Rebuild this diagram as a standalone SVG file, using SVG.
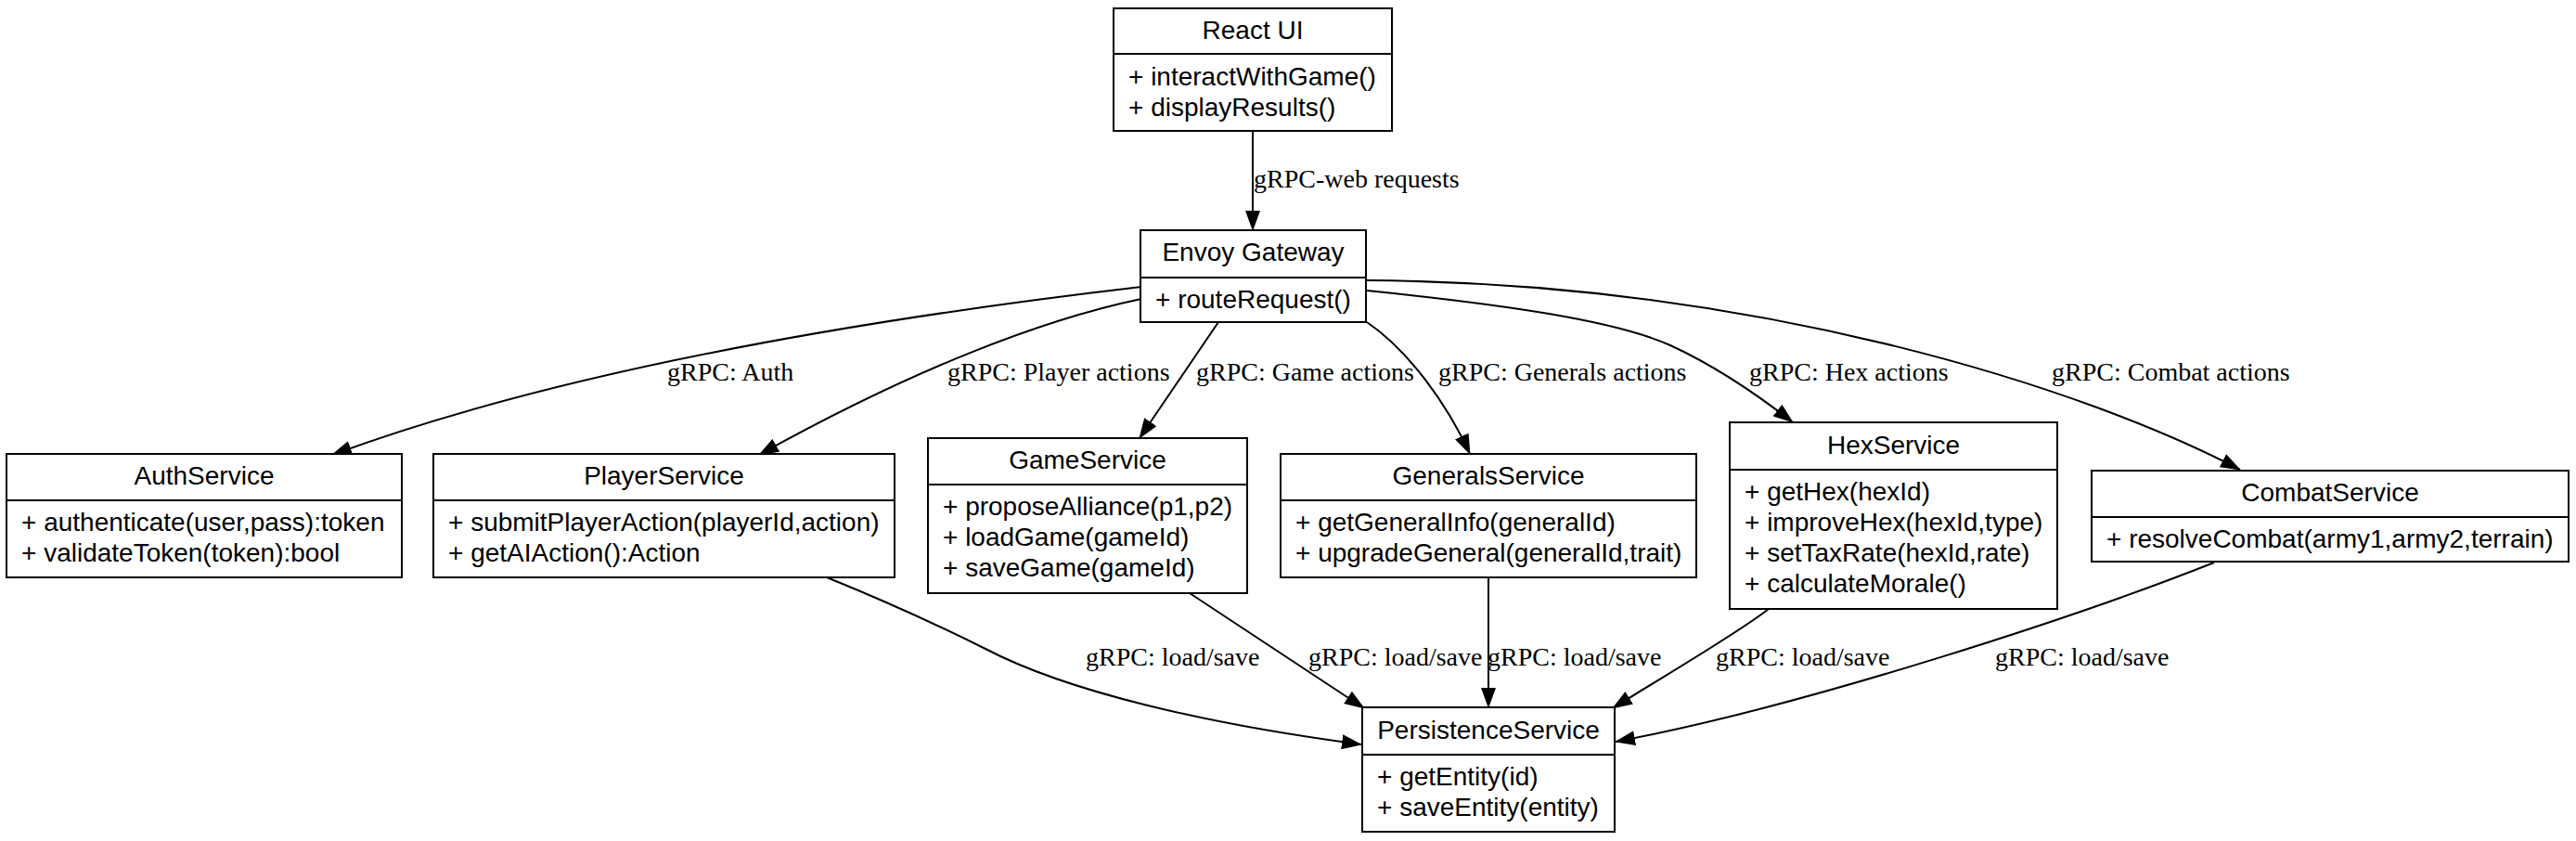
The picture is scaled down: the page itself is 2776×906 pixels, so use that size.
<svg xmlns="http://www.w3.org/2000/svg" width="2776" height="906" viewBox="0 0 2776 906">
<style>
.box{fill:#fff;stroke:#000;stroke-width:2}
.div{stroke:#000;stroke-width:2}
.t{font-family:"Liberation Sans",Arial,sans-serif;font-size:28px;fill:#000}
.c{text-anchor:middle}
.e{fill:none;stroke:#000;stroke-width:2;marker-end:url(#ah)}
.l{font-family:"Liberation Serif","Times New Roman",serif;font-size:28px;fill:#000}
</style>
<defs>
<marker id="ah" markerUnits="userSpaceOnUse" markerWidth="22" markerHeight="16" viewBox="0 0 22 16" refX="21" refY="8" orient="auto">
<path d="M0,0 L22,8 L0,16 z" fill="#000"/>
</marker>
</defs>
<rect width="2776" height="906" fill="#fff"/>
<g id="connectors">
<path class="e" d="M1350,141 L1350,248"/>
<path class="e" d="M1230,309 C930,344 608,398 358,490"/>
<path class="e" d="M1230,322 C1120,345 980,400 818,490"/>
<path class="e" d="M1313,347 L1228,472"/>
<path class="e" d="M1473,347 C1517,377 1559,434 1584,489"/>
<path class="e" d="M1473,313 C1620,328 1740,345 1800,372 C1850,395 1900,430 1932,455"/>
<path class="e" d="M1473,302 C1900,305 2250,420 2414,506"/>
<path class="e" d="M891,622 C960,650 1020,678 1062,699 C1150,745 1300,780 1467,802"/>
<path class="e" d="M1282,639 L1470,763"/>
<path class="e" d="M1604,622 L1604,762"/>
<path class="e" d="M1906,656 C1870,684 1790,730 1738,763"/>
<path class="e" d="M2386,606 C2250,660 1950,760 1741,799"/>
<text class="l" x="1351" y="202">gRPC-web requests</text>
<text class="l" x="719" y="410">gRPC: Auth</text>
<text class="l" x="1021" y="410">gRPC: Player actions</text>
<text class="l" x="1289" y="410">gRPC: Game actions</text>
<text class="l" x="1550" y="410">gRPC: Generals actions</text>
<text class="l" x="1885" y="410">gRPC: Hex actions</text>
<text class="l" x="2211" y="410">gRPC: Combat actions</text>
<text class="l" x="1170" y="717">gRPC: load/save</text>
<text class="l" x="1410" y="717">gRPC: load/save</text>
<text class="l" x="1603" y="717">gRPC: load/save</text>
<text class="l" x="1849" y="717">gRPC: load/save</text>
<text class="l" x="2150" y="717">gRPC: load/save</text>
</g>
<g id="react-ui">
<rect class="box" x="1200" y="9" width="300" height="132"/>
<line class="div" x1="1200" y1="58" x2="1500" y2="58"/>
<text class="t c" x="1350" y="42">React UI</text>
<text class="t" x="1216" y="92">+ interactWithGame()</text>
<text class="t" x="1216" y="125">+ displayResults()</text>
</g>
<g id="envoy-gateway">
<rect class="box" x="1229" y="248" width="243" height="99"/>
<line class="div" x1="1229" y1="299" x2="1472" y2="299"/>
<text class="t c" x="1350.5" y="281">Envoy Gateway</text>
<text class="t" x="1245" y="332">+ routeRequest()</text>
</g>
<g id="auth-service">
<rect class="box" x="7" y="489" width="426" height="133"/>
<line class="div" x1="7" y1="539" x2="433" y2="539"/>
<text class="t c" x="220" y="522">AuthService</text>
<text class="t" x="23" y="572">+ authenticate(user,pass):token</text>
<text class="t" x="23" y="605">+ validateToken(token):bool</text>
</g>
<g id="player-service">
<rect class="box" x="467" y="489" width="497" height="133"/>
<line class="div" x1="467" y1="539" x2="964" y2="539"/>
<text class="t c" x="715.5" y="522">PlayerService</text>
<text class="t" x="483" y="572">+ submitPlayerAction(playerId,action)</text>
<text class="t" x="483" y="605">+ getAIAction():Action</text>
</g>
<g id="game-service">
<rect class="box" x="1000" y="472" width="344" height="167"/>
<line class="div" x1="1000" y1="522" x2="1344" y2="522"/>
<text class="t c" x="1172" y="505">GameService</text>
<text class="t" x="1016" y="555">+ proposeAlliance(p1,p2)</text>
<text class="t" x="1016" y="588">+ loadGame(gameId)</text>
<text class="t" x="1016" y="621">+ saveGame(gameId)</text>
</g>
<g id="generals-service">
<rect class="box" x="1380" y="489" width="448" height="133"/>
<line class="div" x1="1380" y1="539" x2="1828" y2="539"/>
<text class="t c" x="1604" y="522">GeneralsService</text>
<text class="t" x="1396" y="572">+ getGeneralInfo(generalId)</text>
<text class="t" x="1396" y="605">+ upgradeGeneral(generalId,trait)</text>
</g>
<g id="hex-service">
<rect class="box" x="1864" y="455" width="353" height="201"/>
<line class="div" x1="1864" y1="506" x2="2217" y2="506"/>
<text class="t c" x="2040.5" y="489">HexService</text>
<text class="t" x="1880" y="539">+ getHex(hexId)</text>
<text class="t" x="1880" y="572">+ improveHex(hexId,type)</text>
<text class="t" x="1880" y="605">+ setTaxRate(hexId,rate)</text>
<text class="t" x="1880" y="638">+ calculateMorale()</text>
</g>
<g id="combat-service">
<rect class="box" x="2254" y="507" width="514" height="98"/>
<line class="div" x1="2254" y1="557" x2="2768" y2="557"/>
<text class="t c" x="2511" y="540">CombatService</text>
<text class="t" x="2270" y="590">+ resolveCombat(army1,army2,terrain)</text>
</g>
<g id="persistence-service">
<rect class="box" x="1468" y="762" width="272" height="134"/>
<line class="div" x1="1468" y1="813" x2="1740" y2="813"/>
<text class="t c" x="1604" y="796">PersistenceService</text>
<text class="t" x="1484" y="846">+ getEntity(id)</text>
<text class="t" x="1484" y="879">+ saveEntity(entity)</text>
</g>
</svg>
